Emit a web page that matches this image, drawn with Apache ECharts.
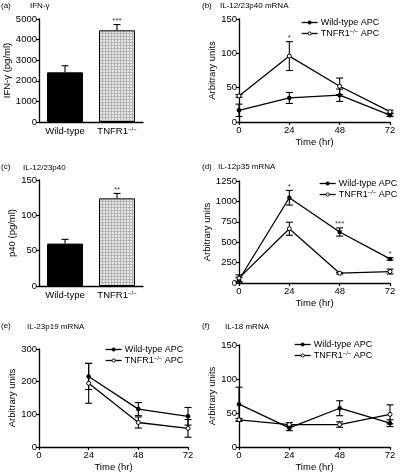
<!DOCTYPE html>
<html><head><meta charset="utf-8">
<script src="https://cdn.jsdelivr.net/npm/echarts@6/dist/echarts.min.js"></script>
<style>html,body{margin:0;padding:0;background:#fff}#c{width:400px;height:473px}</style>
</head><body><div id="c"></div>
<script>
// ---------- data ----------
const barCats = ['Wild-type', 'TNFR1−/−'];
const ifng = [2410, 4450];
const ifngErr = [320, 280];
const ifngSig = ['', '***'];
const p40 = [60, 124];
const p40Err = [6, 7];
const p40Sig = ['', '**'];

const hours = [0, 24, 48, 72];
const hoursE = [24, 48, 72];

const wtB = [17, 35, 39, 10];
const wtBErr = [9, 8, 9, 2];
const koB = [38, 96, 52, 15];
const koBErr = [2, 21, 12, 2];
const sigB = ['', '*', '', ''];

const wtD = [40, 1045, 625, 295];
const wtDErr = [30, 90, 50, 15];
const koD = [60, 665, 120, 140];
const koDErr = [40, 80, 10, 30];
const sigD = ['', '*', '***', '*'];

const wtE = [216, 116, 94];
const wtEErr = [40, 20, 27];
const koE = [195, 75, 57];
const koEErr = [61, 17, 27];

const wtF = [63, 28, 57, 35];
const wtFErr = [25, 4, 11, 5];
const koF = [40, 33, 33, 48];
const koFErr = [2, 3, 4, 14];

const WT = 'Wild-type APC';
const KO = 'TNFR1−/− APC';

// ---------- styling helpers ----------
const FONT = 'Liberation Sans, Arial, sans-serif';
const supRich = { sup: { fontSize: 6, fontFamily: FONT, color: '#000', padding: [0, 0, 5, 0] } };
const supFmt = s => s.replace('−/−', '{sup|−/−}');

function makePattern() {
  const c = document.createElement('canvas');
  c.width = 3; c.height = 3;
  const g = c.getContext('2d');
  g.fillStyle = '#e6e6e6'; g.fillRect(0, 0, 3, 3);
  g.fillStyle = '#b4b4b4'; g.fillRect(0, 0, 3, 1); g.fillRect(0, 0, 1, 3);
  return { image: c, repeat: 'repeat' };
}
const pattern = makePattern();

const grids = [
  { left: 39, top: 19, width: 104, height: 103 },   // a
  { left: 239, top: 19, width: 151, height: 103 },  // b
  { left: 39, top: 180, width: 104, height: 106 },  // c
  { left: 239, top: 181, width: 151, height: 102 }, // d
  { left: 39, top: 349, width: 149, height: 98 },   // e
  { left: 239, top: 345, width: 151, height: 102 }  // f
];

const axLine = { show: true, lineStyle: { color: '#000', width: 1.3 } };
const axTick = { show: true, length: 3, lineStyle: { color: '#000', width: 1.2 } };
const axLabel = { color: '#000', fontSize: 9.5, fontFamily: FONT, margin: 2, formatter: v => String(v) };

function yAx(gi, max, interval, name, gap) {
  return {
    type: 'value', gridIndex: gi, min: 0, max: max, interval: interval,
    axisLine: axLine, axisTick: axTick, axisLabel: axLabel, splitLine: { show: false },
    name: name, nameLocation: 'middle', nameGap: gap, nameRotate: 90,
    nameTextStyle: { color: '#000', fontSize: 9.5, fontFamily: FONT }
  };
}
function xTime(gi) {
  return {
    type: 'value', gridIndex: gi, min: 0, max: 72, interval: 24,
    axisLine: axLine, axisTick: axTick,
    axisLabel: Object.assign({}, axLabel, { margin: 3 }), splitLine: { show: false },
    name: 'Time (hr)', nameLocation: 'middle', nameGap: 15,
    nameTextStyle: { color: '#000', fontSize: 9.5, fontFamily: FONT }
  };
}
function xCat(gi) {
  return {
    type: 'category', gridIndex: gi, data: barCats,
    axisLine: axLine, axisTick: { show: false },
    axisLabel: { color: '#000', fontSize: 9.5, fontFamily: FONT, margin: 4, interval: 0, hideOverlap: false, formatter: supFmt, rich: supRich },
    splitLine: { show: false }
  };
}

function errSeries(ai, xs, vals, errs, upOnly) {
  return {
    type: 'custom', xAxisIndex: ai, yAxisIndex: ai, z: 3, silent: true,
    data: xs.map((x, i) => [x, vals[i], errs[i]]),
    renderItem: function (params, api) {
      const x = api.value(0), v = api.value(1), e = api.value(2);
      const top = api.coord([x, v + e]);
      const bot = api.coord([x, upOnly ? v : v - e]);
      const w = 3.5;
      const st = { stroke: '#000', lineWidth: 1.1 };
      const ch = [
        { type: 'line', shape: { x1: top[0], y1: top[1], x2: bot[0], y2: bot[1] }, style: st },
        { type: 'line', shape: { x1: top[0] - w, y1: top[1], x2: top[0] + w, y2: top[1] }, style: st }
      ];
      if (!upOnly) ch.push({ type: 'line', shape: { x1: bot[0] - w, y1: bot[1], x2: bot[0] + w, y2: bot[1] }, style: st });
      return { type: 'group', children: ch };
    }
  };
}
function sigSeries(ai, xs, tops, sig) {
  return {
    type: 'scatter', xAxisIndex: ai, yAxisIndex: ai, symbolSize: 0, silent: true, z: 5,
    data: xs.map((x, i) => ({ value: [x, tops[i]], label: { formatter: sig[i] } })),
    label: { show: true, position: 'top', distance: 0, color: '#000', fontSize: 8, fontFamily: FONT }
  };
}
function lineSeries(ai, name, xs, vals, open) {
  return {
    type: 'line', name: name, xAxisIndex: ai, yAxisIndex: ai, z: 4,
    data: xs.map((x, i) => [x, vals[i]]),
    symbol: 'circle', symbolSize: open ? 4 : 4.5, showSymbol: true,
    lineStyle: { color: '#000', width: 1.3 },
    itemStyle: open ? { color: '#fff', borderColor: '#000', borderWidth: 1 } : { color: '#000', borderColor: '#000', borderWidth: 0 }
  };
}
function barSeries(ai, vals) {
  return {
    type: 'bar', xAxisIndex: ai, yAxisIndex: ai, barWidth: 36, z: 2,
    data: vals.map((v, i) => ({ value: v, itemStyle: { color: i === 0 ? '#000' : pattern, borderColor: '#000', borderWidth: 1 } }))
  };
}
const maxTop = (a, ae, b, be) => a.map((v, i) => Math.max(v + ae[i], b ? b[i] + be[i] : -Infinity));

function legendAt(left, top) {
  return {
    orient: 'vertical', left: left, top: top, padding: 0, itemGap: 1,
    itemWidth: 16, itemHeight: 4, data: [WT, KO],
    lineStyle: { width: 1.3, color: '#000' },
    itemStyle: { borderWidth: 0.9, borderColor: '#000' },
    textStyle: { color: '#000', fontSize: 9, fontFamily: FONT, padding: [0, 0, 0, -2], rich: supRich },
    formatter: supFmt, selectedMode: false
  };
}
function ttl(text, left, top) {
  return { text: text, left: left, top: top, padding: 0,
    textStyle: { fontSize: 8, fontWeight: 'normal', color: '#000', fontFamily: FONT } };
}

const option = {
  animation: false,
  backgroundColor: '#fff',
  textStyle: { fontFamily: FONT },
  title: [
    ttl('(a)', 1, 2), ttl('IFN-γ', 30, 2),
    ttl('(b)', 202, 2), ttl('IL-12/23p40 mRNA', 220, 2),
    ttl('(c)', 1, 163), ttl('IL-12/23p40', 23, 164),
    ttl('(d)', 202, 163), ttl('IL-12p35 mRNA', 218, 163),
    ttl('(e)', 1, 322), ttl('IL-23p19 mRNA', 27, 323),
    ttl('(f)', 202, 322), ttl('IL-18 mRNA', 225, 323)
  ],
  legend: [legendAt(301, 18), legendAt(319, 179), legendAt(105, 345), legendAt(294, 340)],
  grid: grids,
  xAxis: [xCat(0), xTime(1), xCat(2), xTime(3), xTime(4), xTime(5)],
  yAxis: [
    yAx(0, 5000, 1000, 'IFN-γ (pg/ml)', 27),
    yAx(1, 150, 50, 'Arbitrary units', 22),
    yAx(2, 150, 50, 'p40 (pg/ml)', 22),
    yAx(3, 1250, 250, 'Arbitrary units', 25),
    yAx(4, 300, 100, 'Arbitrary units', 22),
    yAx(5, 150, 50, 'Arbitrary units', 22)
  ],
  series: [
    barSeries(0, ifng),
    errSeries(0, [0, 1], ifng, ifngErr, true),
    sigSeries(0, [0, 1], maxTop(ifng, ifngErr), ifngSig),
    errSeries(1, hours, wtB, wtBErr), errSeries(1, hours, koB, koBErr),
    lineSeries(1, WT, hours, wtB, false), lineSeries(1, KO, hours, koB, true),
    sigSeries(1, hours, maxTop(wtB, wtBErr, koB, koBErr), sigB),
    barSeries(2, p40),
    errSeries(2, [0, 1], p40, p40Err, true),
    sigSeries(2, [0, 1], maxTop(p40, p40Err), p40Sig),
    errSeries(3, hours, wtD, wtDErr), errSeries(3, hours, koD, koDErr),
    lineSeries(3, WT, hours, wtD, false), lineSeries(3, KO, hours, koD, true),
    sigSeries(3, hours, maxTop(wtD, wtDErr, koD, koDErr), sigD),
    errSeries(4, hoursE, wtE, wtEErr), errSeries(4, hoursE, koE, koEErr),
    lineSeries(4, WT, hoursE, wtE, false), lineSeries(4, KO, hoursE, koE, true),
    errSeries(5, hours, wtF, wtFErr), errSeries(5, hours, koF, koFErr),
    lineSeries(5, WT, hours, wtF, false), lineSeries(5, KO, hours, koF, true)
  ]
};
const chart = echarts.init(document.getElementById('c'), null, { renderer: 'canvas' });
chart.setOption(option);
</script>
</body></html>
